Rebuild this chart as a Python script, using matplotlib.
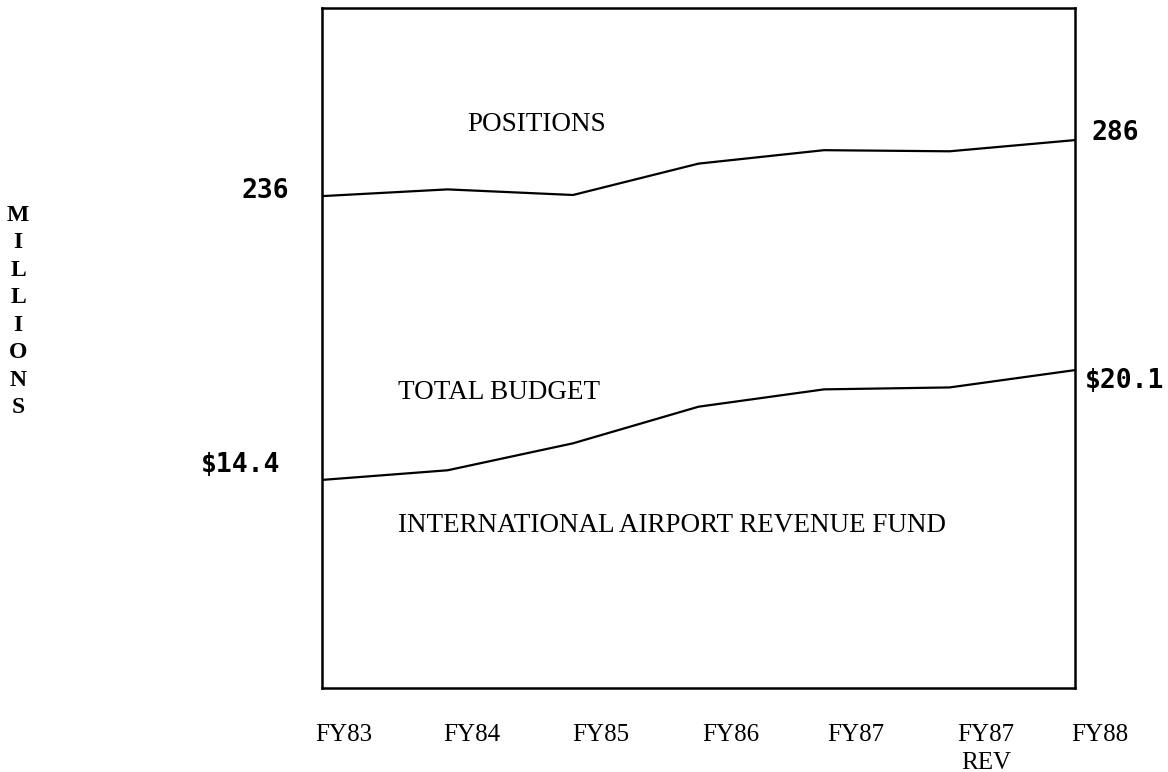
import matplotlib.pyplot as plt
import numpy as np

years = ['FY83', 'FY84', 'FY85', 'FY86', 'FY87', 'FY87\nREV', 'FY88']
positions = [236, 242, 237, 265, 277, 276, 286]
budget = [14.4, 14.9, 16.3, 18.2, 19.1, 19.2, 20.1]

serif = 'Liberation Serif'
num_font = 'DejaVu Sans Mono'

fig = plt.figure(figsize=(11.68, 7.72), dpi=100)
ax = fig.add_axes([0.2757, 0.1088, 0.6447, 0.881])
ax2 = ax.twinx()

x = np.arange(len(years))
ax.plot(x, budget, color='black', lw=1.6)
ax2.plot(x, positions, color='black', lw=1.6)

for a in (ax, ax2):
    for s in a.spines.values():
        s.set_linewidth(1.8)
    a.set_yticks([])
ax2.spines[:].set_visible(False)

ax.set_xlim(0, 6)
ax.set_ylim(3.6, 38.9)
ax2.set_ylim(-203, 404)
ax.set_xticks([])

# the typed labels sit a little right of the data points
label_pos = [0.175, 1.195, 2.22, 3.255, 4.25, 5.29, 6.2]
for xp, lab in zip(label_pos, years):
    ax.text(xp, -0.053, lab, transform=ax.get_xaxis_transform(), ha='center',
            va='top', fontfamily=serif, fontsize=18, linespacing=1.35,
            clip_on=False)

ax2.annotate('236', xy=(0, positions[0]), xycoords=ax2.get_yaxis_transform(),
             xytext=(-24, 4), textcoords='offset points', ha='right', va='center',
             fontfamily=num_font, fontsize=19, fontweight='bold')
ax2.annotate('286', xy=(1, positions[-1]), xycoords=ax2.get_yaxis_transform(),
             xytext=(12, 5), textcoords='offset points', ha='left', va='center',
             fontfamily=num_font, fontsize=19, fontweight='bold')
ax.annotate('$14.4', xy=(0, budget[0]), xycoords=ax.get_yaxis_transform(),
            xytext=(-30, 11), textcoords='offset points', ha='right', va='center',
            fontfamily=num_font, fontsize=19, fontweight='bold')
ax.annotate('$20.1', xy=(1, budget[-1]), xycoords=ax.get_yaxis_transform(),
            xytext=(7, -8), textcoords='offset points', ha='left', va='center',
            fontfamily=num_font, fontsize=19, fontweight='bold')

ax.text(0.1926, 0.828, 'POSITIONS', transform=ax.transAxes, fontfamily=serif,
        fontsize=19.5, va='center')
ax.text(0.101, 0.435, 'TOTAL BUDGET', transform=ax.transAxes, fontfamily=serif,
        fontsize=19.5, va='center')
ax.text(0.101, 0.239, 'INTERNATIONAL AIRPORT REVENUE FUND', transform=ax.transAxes,
        fontfamily=serif, fontsize=19.5, va='center')

for i, ch in enumerate('MILLIONS'):
    fig.text(0.0154, 0.7215 - i * 0.0357, ch, fontfamily=serif, fontsize=17,
             fontweight='bold', ha='center', va='center')

fig.savefig('out.png', dpi=100)
